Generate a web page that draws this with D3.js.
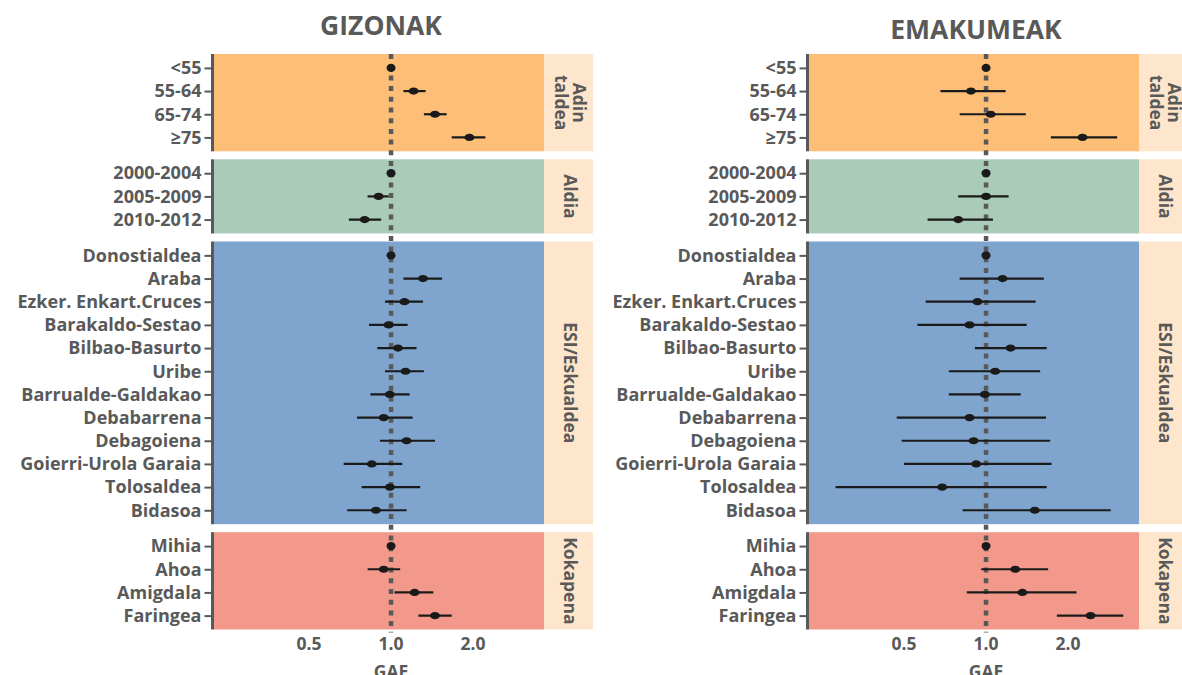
<!DOCTYPE html>
<html>
<head>
<meta charset="utf-8">
<script src="https://cdn.jsdelivr.net/npm/d3@7"></script>
<style>
  body { margin: 0; background: #fff; }
  svg { display: block; font-family: "Open Sans", sans-serif; font-weight: 700; }
</style>
</head>
<body>
<script>
const groups = ["Adin\ntaldea", "Aldia", "ESI/Eskualdea", "Kokapena"];
const groupColors = ["#fdbf78", "#abcbb9", "#7fa5ce", "#f3998b"];
const ageRows = ["<55", "55-64", "65-74", "≥75"];
const periodRows = ["2000-2004", "2005-2009", "2010-2012"];
const areaRows = ["Donostialdea", "Araba", "Ezker. Enkart.Cruces", "Barakaldo-Sestao", "Bilbao-Basurto", "Uribe",
  "Barrualde-Galdakao", "Debabarrena", "Debagoiena", "Goierri-Urola Garaia", "Tolosaldea", "Bidasoa"];
const siteRows = ["Mihia", "Ahoa", "Amigdala", "Faringea"];
const rowsByGroup = [ageRows, periodRows, areaRows, siteRows];

// rows in order: age, period, area, site (reference rows have no interval)
const menGAE = [1, 1.21, 1.45, 1.94, 1, 0.90, 0.80, 1, 1.31, 1.12, 0.98, 1.06, 1.13, 0.99, 0.94, 1.14, 0.85, 0.99, 0.88, 1, 0.94, 1.22, 1.45];
const menLow = [null, 1.11, 1.32, 1.67, null, 0.82, 0.70, null, 1.11, 0.95, 0.83, 0.89, 0.95, 0.84, 0.75, 0.91, 0.67, 0.78, 0.69, null, 0.82, 1.03, 1.26];
const menHigh = [null, 1.34, 1.60, 2.22, null, 0.98, 0.92, null, 1.54, 1.31, 1.15, 1.24, 1.32, 1.17, 1.20, 1.45, 1.10, 1.28, 1.14, null, 1.08, 1.43, 1.67];

const womenGAE = [1, 0.88, 1.04, 2.26, 1, 1.00, 0.79, 1, 1.15, 0.93, 0.87, 1.23, 1.08, 0.99, 0.87, 0.90, 0.92, 0.69, 1.51, 1, 1.28, 1.36, 2.42];
const womenLow = [null, 0.68, 0.80, 1.73, null, 0.79, 0.61, null, 0.80, 0.60, 0.56, 0.91, 0.73, 0.73, 0.47, 0.49, 0.50, 0.28, 0.82, null, 0.96, 0.85, 1.82];
const womenHigh = [null, 1.18, 1.40, 3.03, null, 1.21, 1.06, null, 1.63, 1.52, 1.41, 1.67, 1.58, 1.34, 1.66, 1.72, 1.74, 1.67, 2.87, null, 1.69, 2.15, 3.19];

const xTicks = [0.5, 1, 2];
const xDomain = [0.2238, 3.6445];

const W = 1182, H = 675;
const textColor = "#595959";
const panelW = 330, stripW = 49;
const plotTop = 54, plotBottom = 629.5, gap = 8;

const svg = d3.select("body").append("svg").attr("width", W).attr("height", H);

// vertical layout: space proportional to rows (free space facets)
const units = rowsByGroup.map((r) => r.length - 1 + 1.2);
const unitPx = (plotBottom - plotTop - gap * (groups.length - 1)) / d3.sum(units);
const panelTops = [];
let acc = plotTop;
units.forEach((u) => { panelTops.push(acc); acc += u * unitPx + gap; });

const facets = [
  { title: "GIZONAK", x0: 214, titleY: 35, gae: menGAE, low: menLow, high: menHigh },
  { title: "EMAKUMEAK", x0: 809, titleY: 39, gae: womenGAE, low: womenLow, high: womenHigh },
];

facets.forEach((f) => {
  const g = svg.append("g");
  const x = d3.scaleLog().domain(xDomain).range([f.x0, f.x0 + panelW]);
  const rowsOut = [];

  g.append("text")
    .attr("x", f.x0 + panelW / 2 + 2)
    .attr("y", f.titleY)
    .attr("text-anchor", "middle")
    .attr("font-size", 26.5)
    .attr("fill", textColor)
    .text(f.title);

  let idx = 0;
  rowsByGroup.forEach((rows, gi) => {
    const y0 = panelTops[gi];
    const h = units[gi] * unitPx;
    const y = d3.scalePoint().domain(rows).range([y0, y0 + h]).padding(0.6);

    g.append("rect")
      .attr("x", f.x0).attr("y", y0).attr("width", panelW).attr("height", h)
      .attr("fill", groupColors[gi]);
    g.append("rect")
      .attr("x", f.x0 + panelW).attr("y", y0).attr("width", stripW).attr("height", h)
      .attr("fill", "#fde6cb");

    const lines = groups[gi].split("\n");
    const strip = g.append("text")
      .attr("transform", `translate(${f.x0 + panelW + stripW / 2 + 2},${y0 + h / 2}) rotate(90)`)
      .attr("text-anchor", "middle")
      .attr("font-size", 17.5)
      .attr("fill", textColor);
    lines.forEach((line, li) => {
      strip.append("tspan")
        .attr("x", 0)
        .attr("y", (li - (lines.length - 1) / 2) * 18)
        .attr("dy", "0.35em")
        .text(line);
    });

    // y axis
    const axis = g.append("g")
      .attr("transform", `translate(${f.x0 - 1.5},0)`)
      .call(d3.axisLeft(y).tickSize(8).tickPadding(3));
    axis.select(".domain").attr("d", `M0,${y0}V${y0 + h}`).attr("stroke", textColor).attr("stroke-width", 3);
    axis.selectAll(".tick line").attr("stroke", textColor).attr("stroke-width", 2);
    axis.selectAll(".tick text")
      .attr("fill", textColor)
      .attr("font-size", 18)
      .attr("font-family", "Open Sans, sans-serif")
      .attr("font-weight", 700);

    rows.forEach((name, i) => {
      rowsOut.push({
        name,
        y: y(name),
        gae: f.gae[idx + i],
        low: f.low[idx + i],
        high: f.high[idx + i],
      });
    });
    idx += rows.length;
  });

  // reference line at 1
  g.append("line")
    .attr("x1", x(1)).attr("x2", x(1))
    .attr("y1", plotTop).attr("y2", plotBottom + 3)
    .attr("stroke", textColor)
    .attr("stroke-width", 4.5)
    .attr("stroke-dasharray", "5 5.7");

  const marks = g.append("g");
  marks.selectAll("line.ci")
    .data(rowsOut.filter((d) => d.low != null))
    .join("line")
    .attr("class", "ci")
    .attr("x1", (d) => x(d.low)).attr("x2", (d) => x(d.high))
    .attr("y1", (d) => d.y).attr("y2", (d) => d.y)
    .attr("stroke", "#1a1a1a")
    .attr("stroke-width", 2.2);
  marks.selectAll("ellipse")
    .data(rowsOut)
    .join("ellipse")
    .attr("cx", (d) => x(d.gae))
    .attr("cy", (d) => d.y)
    .attr("rx", (d) => (d.low == null ? 4.5 : 5))
    .attr("ry", (d) => (d.low == null ? 4.2 : 3.6))
    .attr("fill", "#1a1a1a");

  // x axis labels
  g.selectAll("text.xtick")
    .data(xTicks)
    .join("text")
    .attr("class", "xtick")
    .attr("x", (d) => x(d))
    .attr("y", 649.5)
    .attr("text-anchor", "middle")
    .attr("font-size", 17.5)
    .attr("fill", textColor)
    .text((d) => d.toFixed(1));

  g.append("text")
    .attr("x", x(1))
    .attr("y", 678)
    .attr("text-anchor", "middle")
    .attr("font-size", 17.5)
    .attr("fill", textColor)
    .text("GAE");
});
</script>
</body>
</html>
